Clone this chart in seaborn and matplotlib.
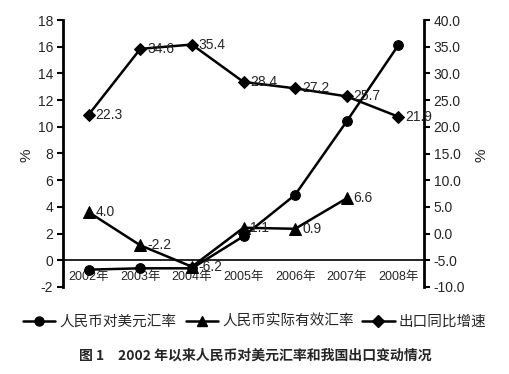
import matplotlib
matplotlib.use("Agg")
import matplotlib.pyplot as plt
import seaborn as sns
import pandas as pd
import numpy as np
from matplotlib.lines import Line2D

sns.set_theme(style="white")
plt.rcParams['font.family'] = ['Liberation Sans', 'Noto Sans CJK SC', 'DejaVu Sans']
plt.rcParams['axes.unicode_minus'] = False

years = ["2002年", "2003年", "2004年", "2005年", "2006年", "2007年", "2008年"]
usd_rate = [-0.7, -0.6, -0.6, 1.8, 4.9, 10.4, 16.1]          # left axis
reer = [4.0, -2.2, -6.2, 1.1, 0.9, 6.6]                       # right axis
export_growth = [22.3, 34.6, 35.4, 28.4, 27.2, 25.7, 21.9]    # right axis
series_names = ["人民币对美元汇率", "人民币实际有效汇率", "出口同比增速"]

fig = plt.figure(figsize=(5.10, 3.74), dpi=100)
ax = fig.add_axes([63/510, 1-287/374, (424-63)/510, (287-20)/374])
ax2 = ax.twinx()

x = np.arange(len(years))
df1 = pd.DataFrame({"x": x, "v": usd_rate})
df2 = pd.DataFrame({"x": x[:len(reer)], "v": reer})
df3 = pd.DataFrame({"x": x, "v": export_growth})

sns.lineplot(data=df1, x="x", y="v", ax=ax, color="black", lw=1.8,
             marker="o", markersize=7, markeredgecolor="black", legend=False)
sns.lineplot(data=df2, x="x", y="v", ax=ax2, color="black", lw=1.8,
             marker="^", markersize=8, markeredgecolor="black", legend=False)
sns.lineplot(data=df3, x="x", y="v", ax=ax2, color="black", lw=1.8,
             marker="D", markersize=6.5, markeredgecolor="black", legend=False)

lab_fs = 10
for xi, v in zip(df2["x"], reer):
    ax2.annotate(f"{v:.1f}", (xi, v), xytext=(5, 0), textcoords="offset points",
                 ha="left", va="center", fontsize=lab_fs)
for xi, v in zip(df3["x"], export_growth):
    ax2.annotate(f"{v:.1f}", (xi, v), xytext=(5, 0), textcoords="offset points",
                 ha="left", va="center", fontsize=lab_fs)

ax.set_xlim(-0.5, len(years) - 0.5)
ax.set_ylim(-2, 18)
ax2.set_ylim(-10, 40)
ax.set_yticks(np.arange(-2, 19, 2))
ax2.set_yticks(np.arange(-10, 41, 5))
ax2.set_yticklabels([f"{t:.1f}" for t in np.arange(-10, 41, 5)])

for a in (ax, ax2):
    a.set_xlabel("")
    a.set_ylabel("")
    a.spines["top"].set_visible(False)
    a.grid(False)

ax.set_xticks(x)
ax.set_xticklabels(years)
ax.set_xticks(np.arange(-0.5, len(years), 1), minor=True)
ax.tick_params(axis="x", which="major", length=0, pad=8, labelsize=9)
ax.tick_params(axis="x", which="minor", direction="in", length=4, width=1, color="black")
for t in ax.get_xticklabels():
    t.set_fontsize(9)

ax.spines["bottom"].set_position(("data", 0))
ax.spines["bottom"].set_color("black")
ax.spines["bottom"].set_linewidth(1.2)
ax.spines["left"].set_color("black")
ax.spines["left"].set_linewidth(2)
ax.spines["right"].set_visible(False)
ax2.spines["bottom"].set_visible(False)
ax2.spines["left"].set_visible(False)
ax2.spines["right"].set_color("black")
ax2.spines["right"].set_linewidth(2)
ax.tick_params(axis="y", direction="out", length=4, width=1.5, color="black", labelsize=10, pad=3, left=True)
ax2.tick_params(axis="y", direction="out", length=4, width=1.5, color="black", labelsize=10, pad=3, right=True)

fig.text(27/510, 1-155/374, "%", rotation=90, ha="center", va="center", fontsize=11)
fig.text(482/510, 1-155/374, "%", rotation=90, ha="center", va="center", fontsize=11)

handles = [
    Line2D([], [], color="black", lw=1.8, marker="o", markersize=6.5),
    Line2D([], [], color="black", lw=1.8, marker="^", markersize=7),
    Line2D([], [], color="black", lw=1.8, marker="D", markersize=6),
]
fig.legend(handles, series_names, loc="center", bbox_to_anchor=(0.5, 1-322/374),
           ncol=3, frameon=False, handlelength=2.2, handletextpad=0.3, columnspacing=0.6,
           prop={"family": ["Noto Sans CJK SC"], "size": 10.5})

fig.text(0.5, 1-356/374, "图 1　2002 年以来人民币对美元汇率和我国出口变动情况",
         ha="center", va="center", fontsize=10, fontweight="bold",
         family=["Noto Sans CJK SC"])

fig.savefig("out.png", dpi=100, facecolor="white")
